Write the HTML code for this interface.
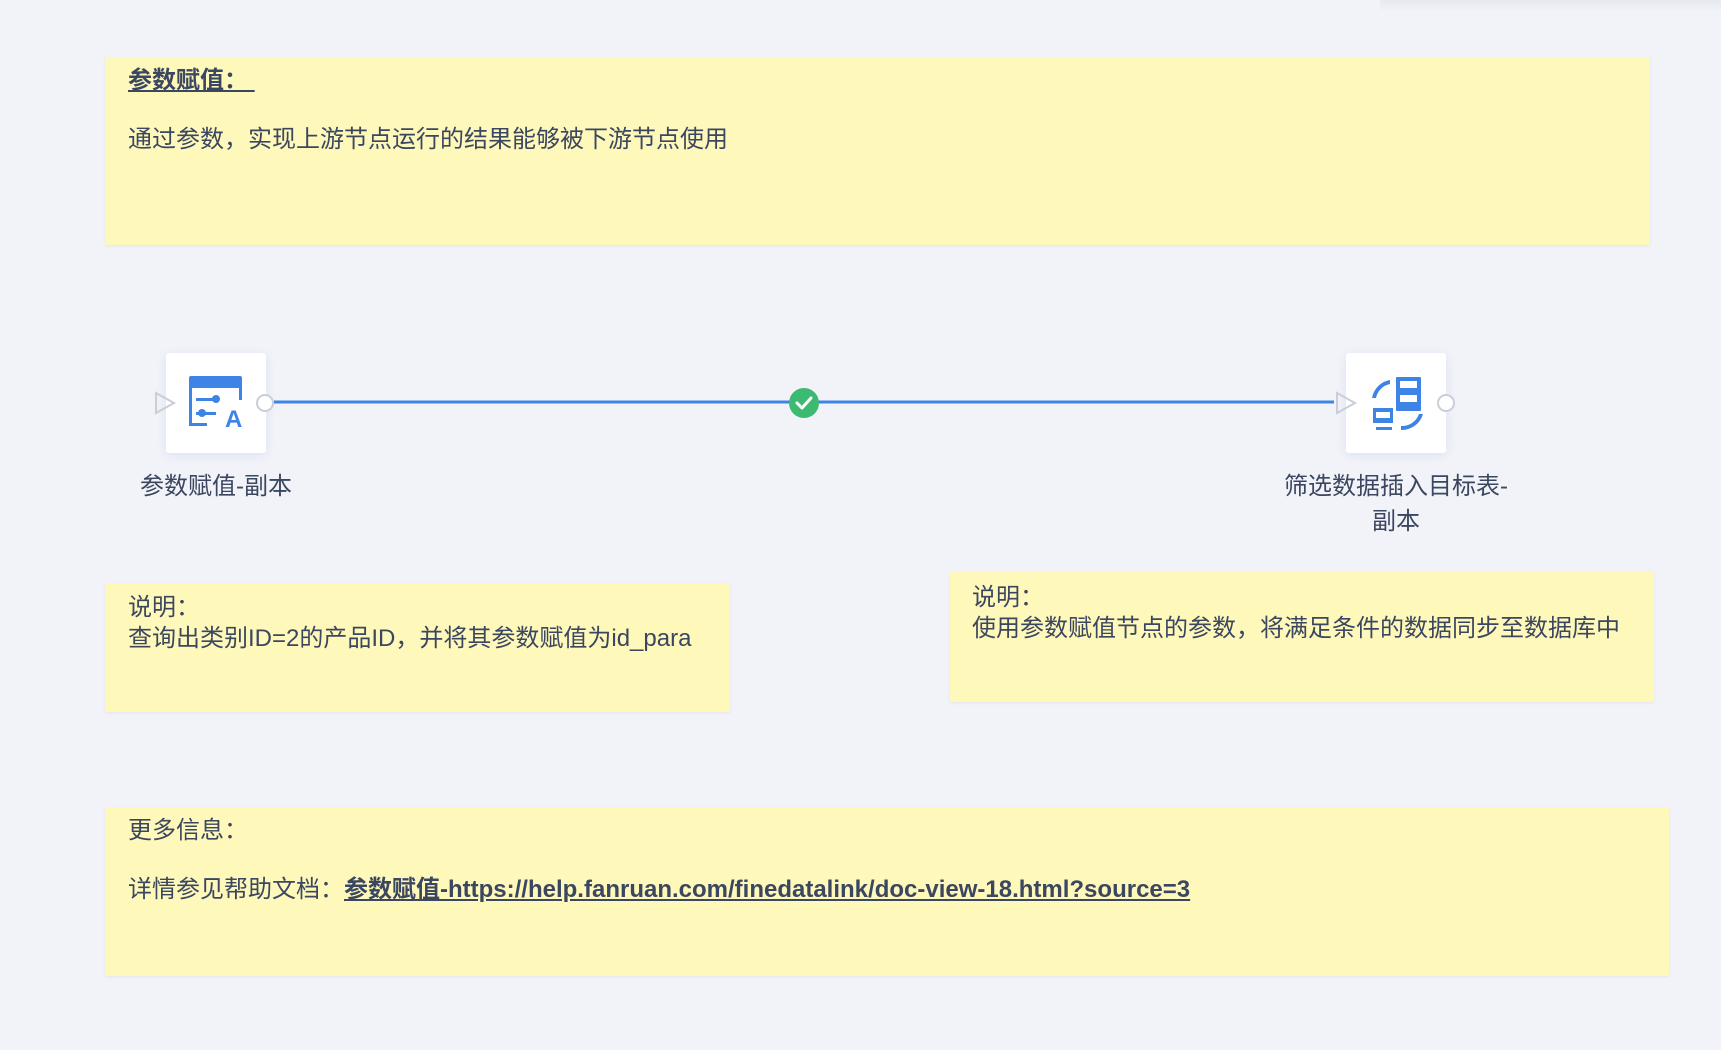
<!DOCTYPE html>
<html><head><meta charset="utf-8"><style>
body{margin:0;width:1721px;height:1050px;background:#f1f3f8;position:relative;overflow:hidden;font-family:"Liberation Sans","Noto Sans CJK SC",sans-serif;color:#3b4760;font-size:24px}
.n{position:absolute;background:#fef8ba;box-shadow:0 1px 3px rgba(0,0,0,0.06)}
.t{position:absolute;white-space:nowrap;line-height:1}
.c{position:absolute;width:300px;text-align:center;line-height:1}
.node{position:absolute;width:100px;height:100px;background:#fff;border-radius:3px;box-shadow:0 2px 10px rgba(60,110,200,0.12)}
a{color:#3b4760;font-weight:bold;text-decoration:underline}
</style></head><body>
<div style="position:absolute;left:1380px;top:0;width:341px;height:12px;background:linear-gradient(#e6e9ef,#f1f3f8)"></div>
<div class="n" style="left:105px;top:57px;width:1545px;height:188px"></div>
<div class="t" style="left:128px;top:69px;font-weight:bold;text-decoration:underline">参数赋值：&nbsp;</div>
<div class="t" style="left:128px;top:128px">通过参数，实现上游节点运行的结果能够被下游节点使用</div>

<div class="n" style="left:105px;top:583px;width:625px;height:129px"></div>
<div class="t" style="left:128px;top:596px">说明：</div>
<div class="t" style="left:128px;top:627px">查询出类别ID=2的产品ID，并将其参数赋值为id_para</div>

<div class="n" style="left:950px;top:572px;width:704px;height:130px"></div>
<div class="t" style="left:972px;top:586px">说明：</div>
<div class="t" style="left:972px;top:617px">使用参数赋值节点的参数，将满足条件的数据同步至数据库中</div>

<div class="n" style="left:105px;top:807px;width:1564px;height:169px"></div>
<div class="t" style="left:128px;top:819px">更多信息：</div>
<div class="t" style="left:128px;top:878px">详情参见帮助文档：<a>参数赋值-https://help.fanruan.com/finedatalink/doc-view-18.html?source=3</a></div>

<svg style="position:absolute;left:0;top:0" width="1721" height="1050">
<line x1="274" y1="402" x2="1334" y2="402" stroke="#3d84e6" stroke-width="3"/>
<circle cx="804" cy="403" r="15" fill="#3dba71"/>
<path d="M797 403 l5 5 l9 -10" stroke="#fff" stroke-width="3" fill="none" stroke-linecap="round" stroke-linejoin="round"/>
</svg>
<div class="node" style="left:166px;top:353px"></div>
<div class="node" style="left:1346px;top:353px"></div>
<svg style="position:absolute;left:0;top:0" width="1721" height="1050">
<path d="M156 393 L174 403 L156 413 Z" fill="none" stroke="#c9ced8" stroke-width="2"/>
<path d="M1337 393 L1355 403 L1337 413 Z" fill="none" stroke="#c9ced8" stroke-width="2"/>
<circle cx="265" cy="403" r="8" fill="#fff" stroke="#c9ced8" stroke-width="2"/>
<circle cx="1446" cy="403" r="8" fill="#fff" stroke="#c9ced8" stroke-width="2"/>
<g fill="#3d84e6">
<rect x="189" y="376" width="53" height="12" rx="2"/>
<path d="M189 386 v40 h18 v-3 h-15 v-37z M239 386 v14 h3 v-14z"/>
<rect x="196" y="398" width="22" height="3"/><circle cx="216" cy="399" r="4"/>
<rect x="196" y="412" width="20" height="3"/><circle cx="202" cy="413" r="4"/>
</g>
<text x="225" y="427" font-family="Liberation Sans" font-weight="bold" font-size="24" fill="#3d84e6">A</text>
<g fill="#3d84e6">
<rect x="1396" y="377" width="25" height="34" rx="1"/>
<rect x="1373" y="408" width="20" height="15"/>
<rect x="1376" y="427" width="16" height="3"/>
<path d="M1390 380 a22 22 0 0 0 -18 18 l4 0 a18 18 0 0 1 14 -14z"/>
<path d="M1423 414 a22 22 0 0 1 -22 16 l0 -4 a18 18 0 0 0 18 -12z"/>
</g>
<g fill="#fff"><rect x="1400" y="381" width="17" height="7"/><rect x="1400" y="395" width="17" height="7"/><rect x="1376" y="412" width="14" height="6"/></g>
</svg>
<div class="c" style="left:66px;top:475px">参数赋值-副本</div>
<div class="c" style="left:1246px;top:475px">筛选数据插入目标表-</div>
<div class="c" style="left:1246px;top:510px">副本</div>
</body></html>
